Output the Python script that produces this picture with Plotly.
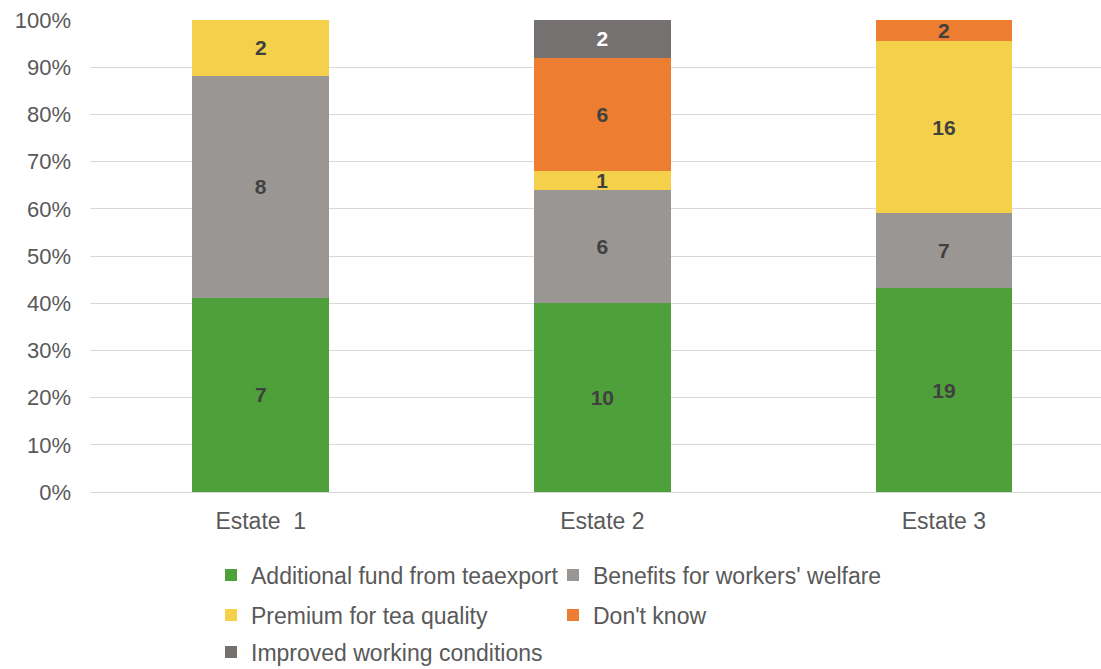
import plotly.graph_objects as go

# Survey answers per estate (counts); bars are normalised to 100 %
estates = ["Estate \u00a01", "Estate 2", "Estate 3"]
additional_fund = [7, 10, 19]
workers_welfare = [8, 6, 7]
tea_quality = [2, 1, 16]
dont_know = [0, 6, 2]
working_conditions = [0, 2, 0]

series = [
    ("Additional fund from teaexport", additional_fund, "#4EA03A", "#404040", "legend"),
    ("Benefits for workers' welfare", workers_welfare, "#9A9694", "#404040", "legend"),
    ("Premium for tea quality", tea_quality, "#F5D04B", "#404040", "legend2"),
    ("Don't know", dont_know, "#ED7D31", "#404040", "legend2"),
    ("Improved working conditions", working_conditions, "#767171", "#FFFFFF", "legend3"),
]

font = "Liberation Sans, Arial, sans-serif"

fig = go.Figure()
for name, vals, color, txtcolor, leg in series:
    fig.add_trace(go.Bar(
        name=name,
        x=estates,
        y=vals,
        marker=dict(color=color, line=dict(width=0)),
        text=[str(v) if v else "" for v in vals],
        textposition="inside",
        insidetextanchor="middle",
        textangle=0,
        textfont=dict(family=font, size=21, color=txtcolor, weight="bold"),
        width=0.4,
        legend=leg,
        hoverinfo="skip",
    ))

legend_common = dict(
    orientation="h",
    xref="container", yref="container",
    xanchor="left", yanchor="middle",
    font=dict(family=font, size=23, color="#595959"),
    entrywidth=297, entrywidthmode="pixels",
    bgcolor="rgba(0,0,0,0)",
    traceorder="normal",
)
x_leg = 211 / 1101

fig.update_layout(
    barmode="stack",
    barnorm="percent",
    width=1101, height=669,
    margin=dict(l=90, r=0, t=20, b=177, autoexpand=False),
    paper_bgcolor="white",
    plot_bgcolor="white",
    font=dict(family=font, size=22, color="#595959"),
    uniformtext=dict(minsize=21, mode="show"),
    xaxis=dict(
        range=[-0.5, 2.46],
        showgrid=False,
        zeroline=False,
        showline=False,
        ticks="",
        tickfont=dict(family=font, size=23, color="#595959"),
        ticklabelstandoff=13,
    ),
    yaxis=dict(
        range=[0, 100],
        dtick=10,
        ticksuffix="%",
        showgrid=True,
        gridcolor="#D9D9D9",
        gridwidth=1.3,
        zeroline=True,
        zerolinecolor="#D9D9D9",
        zerolinewidth=1.3,
        showline=False,
        ticks="",
        tickfont=dict(family=font, size=22, color="#595959"),
        ticklabelstandoff=18,
    ),
    legend=dict(legend_common, x=x_leg, y=1 - 575 / 669),
    legend2=dict(legend_common, x=x_leg, y=1 - 615 / 669),
    legend3=dict(legend_common, x=x_leg, y=1 - 652 / 669),
)

fig.write_html("out.html")
